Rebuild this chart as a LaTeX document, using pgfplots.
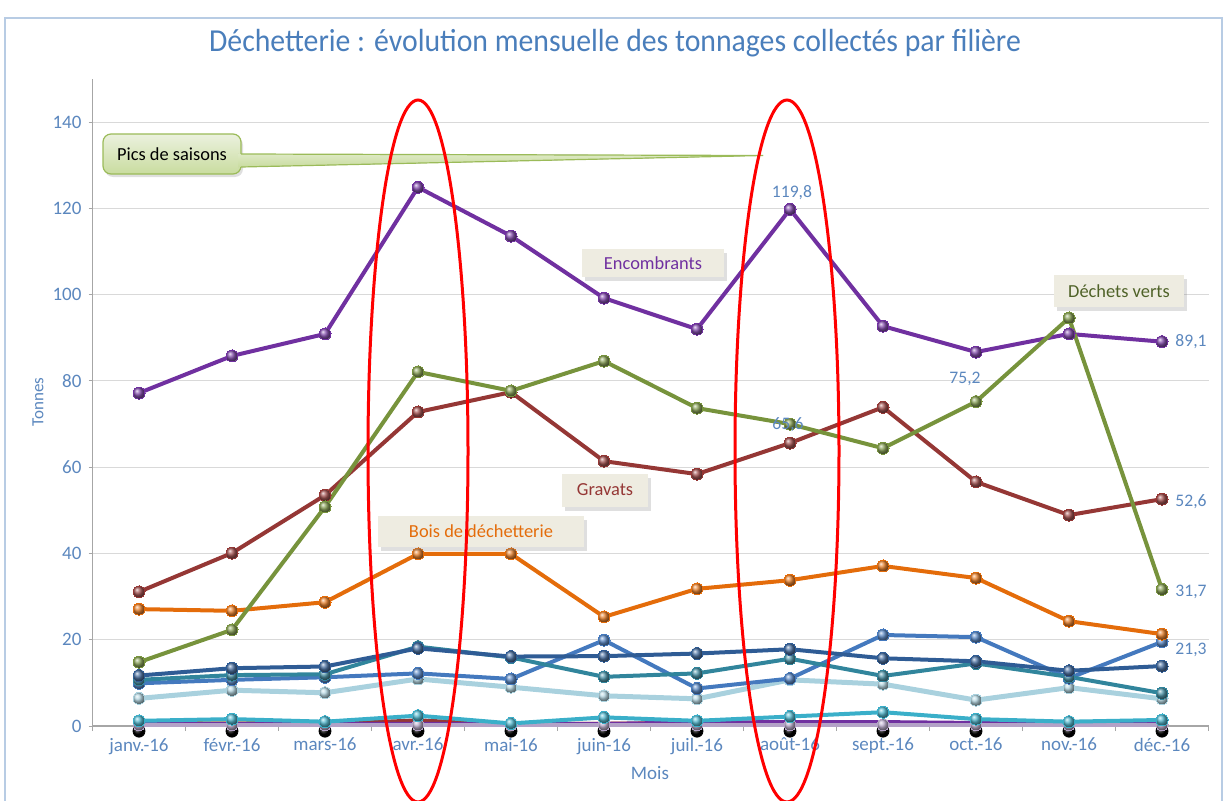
\documentclass[border=0pt]{standalone}
\usepackage{pgfplots}
\pgfplotsset{compat=1.18}
\usepackage{pgfplotstable}
\usepackage{fontspec}
\setmainfont{Carlito}
\usetikzlibrary{shadows}

\definecolor{cPurple}{HTML}{7030A0}
\definecolor{cGreen}{HTML}{77933C}
\definecolor{cGrav}{HTML}{953735}
\definecolor{cBois}{HTML}{E46C0A}
\definecolor{cDblue}{HTML}{2F5C95}
\definecolor{cTeal}{HTML}{31859C}
\definecolor{cBlue}{HTML}{4479BE}
\definecolor{cLight}{HTML}{A9D1DE}
\definecolor{cCyan}{HTML}{3AAFC9}
\definecolor{cLav}{HTML}{B3A2C7}
\definecolor{cTick}{HTML}{5B87BE}
\definecolor{cTitle}{HTML}{4A7EBB}
\definecolor{cFrame}{HTML}{B8CCE4}
\definecolor{cAxis}{HTML}{A6A6A6}
\definecolor{cGrid}{HTML}{D9D9D9}
\definecolor{cBox}{HTML}{EEECE1}
\definecolor{cVertTxt}{HTML}{4F6228}
\definecolor{cCall1}{HTML}{EBF1DE}
\definecolor{cCall2}{HTML}{C9DC9F}
\definecolor{cCallB}{HTML}{9BBB59}

% tonnes par mois (0 = janv.-16 ... 11 = déc.-16)
\pgfplotstableread{
m  enc   verts grav bois dblue teal blue light cyan sor sred spur lav blk
0  77.2  14.8  31.1 27.1 11.7  10.7  9.9  6.4  1.2  0.8 0.4  0.5  0.3 -1.2
1  85.8  22.3  40.1 26.7 13.4  11.8 10.7  8.3  1.6  0.7 0.5  0.6  0.3 -1.2
2  90.9  50.8  53.5 28.7 13.8  12.0 11.3  7.7  1.0  0.9 0.5  0.6  0.3 -1.2
3  124.9 82.1  72.8 39.9 18.0  18.4 12.2 10.9  2.4  1.0 1.4  0.6  0.3 -1.2
4  113.6 77.7  77.4 39.9 16.1  15.9 10.9  9.0  0.6  0.5 0.4  0.5  0.3 -1.2
5  99.2  84.6  61.4 25.3 16.2  11.4 19.9  7.0  2.0  0.6 0.4  0.6  0.3 -1.2
6  92.0  73.7  58.4 31.8 16.8  12.2  8.7  6.3  1.2  0.8 0.4  0.9  0.3 -1.2
7  119.8 70.0  65.6 33.8 17.8  15.6 11.0 10.7  2.2  0.6 0.5  1.0  0.3 -1.2
8  92.7  64.4  73.9 37.1 15.7  11.6 21.1  9.7  3.2  0.5 0.4  1.0  0.3 -1.2
9  86.7  75.2  56.6 34.3 15.0  14.5 20.6  6.0  1.6  0.6 0.4  0.8  0.3 -1.2
10 90.9  94.6  48.9 24.3 12.8  11.4 11.1  8.9  1.0  0.5 0.3  0.5  0.3 -1.2
11 89.1  31.7  52.6 21.3 13.9   7.6 19.5  6.3  1.4  1.2 0.4  0.6  0.3 -1.2
}\data

\tikzset{
  ser/.style={color=#1, line width=2pt, mark=ball, mark size=3pt,
    mark options={ball color=#1!85!white, line width=0pt, draw=none}},
  thin ser/.style={color=#1, line width=1.6pt, mark=none},
  box/.style={fill=cBox, inner sep=0pt, font=\fontsize{9.2pt}{11pt}\selectfont,
    drop shadow={shadow xshift=1.5pt, shadow yshift=-2pt, opacity=0.25}},
  lbl/.style={text=cTick, inner sep=0pt, font=\fontsize{8.8pt}{10pt}\selectfont}
}

\begin{document}
\begin{tikzpicture}
\path[use as bounding box] (0,0) rectangle (613.5pt,400pt);

\begin{axis}[
  at={(46.25pt,37pt)}, anchor=south west,
  scale only axis, width=558pt, height=323.5pt,
  xmin=-0.5, xmax=11.5, ymin=0, ymax=150,
  clip=false,
  axis lines*=left,
  axis line style={draw=cAxis, line width=0.8pt},
  xtick={0,...,11},
  xticklabels={janv.-16, févr.-16, mars-16, avr.-16, mai-16, juin-16,
    juil.-16, août-16, sept.-16, oct.-16, nov.-16, déc.-16},
  minor xtick={-0.5,0.5,...,11.5},
  ytick={0,20,...,140},
  ymajorgrids,
  grid style={draw=cGrid, line width=0.5pt},
  tick align=outside,
  major tick length=2pt, minor tick length=2.5pt,
  major x tick style={draw=none},
  minor x tick style={draw=cAxis, line width=0.5pt},
  major y tick style={draw=cAxis, line width=0.5pt},
  tick label style={text=cTick, font=\fontsize{9.5pt}{11pt}\selectfont},
  xticklabel style={yshift=-0.5pt},
  /pgf/number format/assume math mode=true,
]
\addplot[thin ser=cBois]  table[x=m, y=sor]  \data;
\addplot[thin ser=cGrav]  table[x=m, y=sred] \data;
\addplot[thin ser=cPurple] table[x=m, y=spur] \data;
\addplot[only marks, mark=ball, mark size=3pt, mark options={ball color=black, draw=none}] table[x=m, y=blk] \data;
\addplot[ser=cLav]   table[x=m, y=lav]   \data;
\addplot[ser=cCyan]  table[x=m, y=cyan]  \data;
\addplot[ser=cLight, line width=2.5pt] table[x=m, y=light] \data;
\addplot[ser=cBlue]  table[x=m, y=blue]  \data;
\addplot[ser=cTeal]  table[x=m, y=teal]  \data;
\addplot[ser=cDblue] table[x=m, y=dblue] \data;
\addplot[ser=cBois]  table[x=m, y=bois]  \data;
\addplot[ser=cPurple] table[x=m, y=enc]  \data;
\addplot[ser=cGrav]  table[x=m, y=grav]  \data;
\addplot[ser=cGreen] table[x=m, y=verts] \data;
\end{axis}

% annotations, in pixel units of the 1227x800 reference
\begin{scope}[x=0.5pt, y=-0.5pt, shift={(0pt,400pt)}]
  \draw[cFrame, line width=0.6pt] (5,18) rectangle (1222,820);
  \node[text=cTitle] at (615,43)
    {\scalebox{0.93}[1]{\fontsize{16pt}{19pt}\selectfont D\'echetterie : \'evolution mensuelle des tonnages collect\'es par fili\`ere}};
  \node[rotate=90, lbl, font=\fontsize{8.5pt}{10pt}\selectfont] at (38,402) {Tonnes};
  \node[lbl, font=\fontsize{9.5pt}{11pt}\selectfont] at (650,773) {Mois};

  \node[lbl] at (792,193) {119,8};
  \node[lbl, anchor=west] at (1175,342) {89,1};
  \node[lbl, anchor=west] at (1175,502) {52,6};
  \node[lbl, anchor=west] at (1175,592) {31,7};
  \node[lbl, anchor=west] at (1175,650) {21,3};
  \node[lbl] at (965,379) {75,2};
  \node[lbl] at (788,425) {65,6};

  \node[box, text=cPurple, minimum width=71pt, minimum height=14pt] at (653,263) {Encombrants};
  \node[box, text=cGrav, minimum width=43pt, minimum height=16.5pt] at (605,490) {Gravats};
  \node[box, text=cBois, minimum width=103pt, minimum height=15.5pt] at (481,531) {Bois de d\'echetterie};
  \node[box, text=cVertTxt, minimum width=65pt, minimum height=16pt] at (1119,291) {D\'echets verts};

  \draw[cCallB, line width=0.6pt, rounded corners=4pt, top color=cCall1, bottom color=cCall2,
    drop shadow={shadow xshift=1pt, shadow yshift=-1.5pt, opacity=0.25}]
    (103,134) rectangle (241,174);
  \fill[top color=cCall1!60!cCall2, bottom color=cCall2] (238,154) -- (763,155.5) -- (238,167) -- cycle;
  \draw[cCallB, line width=0.6pt] (241,154) -- (763,155.5) -- (241,167);
  \node[font=\fontsize{9.2pt}{11pt}\selectfont] at (172,154) {Pics de saisons};

  \draw[red, line width=1.5pt] (418,451) ellipse [x radius=50, y radius=351];
  \draw[red, line width=1.5pt] (787,451) ellipse [x radius=52, y radius=351];
\end{scope}
\end{tikzpicture}
\end{document}
